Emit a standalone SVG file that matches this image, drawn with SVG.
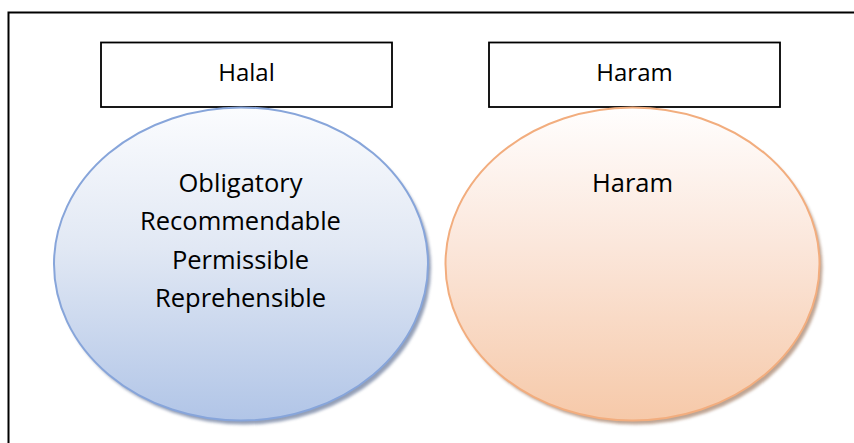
<svg xmlns="http://www.w3.org/2000/svg" width="854" height="443" viewBox="0 0 854 443">
<style>
  .lbl { font-family: "Open Sans", "Noto Sans", "Liberation Sans", sans-serif; font-size: 24px; fill: #000; text-anchor: middle; }
  .big { font-size: 25.5px; }
  .box { fill: #fff; stroke: #000; stroke-width: 1.8; }
</style>
<defs>
  <linearGradient id="gBlue" x1="0" y1="0" x2="0" y2="1">
    <stop offset="0" stop-color="#fbfcfe"/>
    <stop offset="0.45" stop-color="#e1e8f4"/>
    <stop offset="1" stop-color="#b1c5e7"/>
  </linearGradient>
  <linearGradient id="gOrange" x1="0" y1="0" x2="0" y2="1">
    <stop offset="0" stop-color="#fffefe"/>
    <stop offset="0.45" stop-color="#fbe6da"/>
    <stop offset="1" stop-color="#f6c9a9"/>
  </linearGradient>
  <filter id="blur" x="-10%" y="-10%" width="120%" height="120%">
    <feGaussianBlur stdDeviation="1.5"/>
  </filter>
</defs>
<rect id="frame" x="8.5" y="12.5" width="860" height="450" fill="#fff" stroke="#000" stroke-width="2"/>
<g id="connectors"></g>
<g id="halal-box">
  <rect class="box" x="101" y="42.5" width="291" height="64.5"/>
  <text class="lbl" x="246.5" y="81">Halal</text>
</g>
<g id="haram-box">
  <rect class="box" x="489" y="42.5" width="291" height="64.5"/>
  <text class="lbl" x="634.5" y="81">Haram</text>
</g>
<g id="halal-circle">
  <ellipse cx="244" cy="268" rx="187" ry="156.5" fill="#6f7f9f" opacity="0.75" filter="url(#blur)"/>
  <ellipse cx="241" cy="264" rx="187" ry="156.5" fill="url(#gBlue)" stroke="#87a5da" stroke-width="2"/>
  <text class="lbl big" x="240.5" y="192">Obligatory</text>
  <text class="lbl big" x="240.5" y="230">Recommendable</text>
  <text class="lbl big" x="240.5" y="268.5">Permissible</text>
  <text class="lbl big" x="240.5" y="307">Reprehensible</text>
</g>
<g id="haram-circle">
  <ellipse cx="635.5" cy="268" rx="187" ry="156.5" fill="#a98670" opacity="0.75" filter="url(#blur)"/>
  <ellipse cx="632.5" cy="264" rx="187" ry="156.5" fill="url(#gOrange)" stroke="#f2ad7e" stroke-width="2"/>
  <text class="lbl big" x="632.5" y="192">Haram</text>
</g>
</svg>
